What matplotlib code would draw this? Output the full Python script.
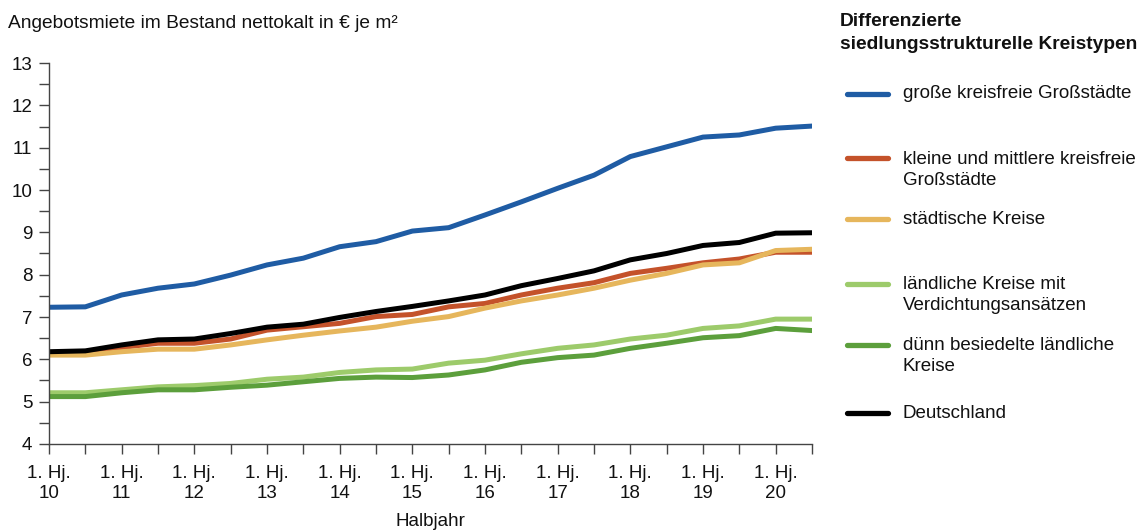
import matplotlib
matplotlib.use("Agg")
import matplotlib.pyplot as plt
from matplotlib.lines import Line2D

plt.rcParams['font.family'] = ['Liberation Sans', 'DejaVu Sans']

# Half-year periods 1. Hj. 2010 .. 2. Hj. 2020
periods = ["1. Hj. 10", "2. Hj. 10", "1. Hj. 11", "2. Hj. 11", "1. Hj. 12", "2. Hj. 12",
           "1. Hj. 13", "2. Hj. 13", "1. Hj. 14", "2. Hj. 14", "1. Hj. 15", "2. Hj. 15",
           "1. Hj. 16", "2. Hj. 16", "1. Hj. 17", "2. Hj. 17", "1. Hj. 18", "2. Hj. 18",
           "1. Hj. 19", "2. Hj. 19", "1. Hj. 20", "2. Hj. 20"]

grosse_grossstaedte = [7.23, 7.24, 7.52, 7.68, 7.78, 7.99, 8.23, 8.39, 8.66, 8.78, 9.03,
                       9.11, 9.41, 9.72, 10.04, 10.35, 10.79, 11.02, 11.25, 11.30, 11.46, 11.51]
kleine_grossstaedte = [6.15, 6.15, 6.28, 6.38, 6.38, 6.48, 6.69, 6.77, 6.85, 7.01, 7.06,
                       7.24, 7.32, 7.52, 7.68, 7.81, 8.03, 8.15, 8.28, 8.37, 8.53, 8.53]
staedtische_kreise = [6.10, 6.10, 6.18, 6.24, 6.24, 6.34, 6.46, 6.57, 6.67, 6.76, 6.90,
                      7.01, 7.21, 7.38, 7.52, 7.68, 7.87, 8.03, 8.23, 8.28, 8.57, 8.60]
laendlich_verdichtet = [5.21, 5.21, 5.28, 5.35, 5.38, 5.43, 5.53, 5.58, 5.69, 5.75, 5.77,
                        5.91, 5.98, 6.13, 6.26, 6.34, 6.48, 6.57, 6.73, 6.79, 6.95, 6.95]
duenn_besiedelt = [5.12, 5.12, 5.21, 5.28, 5.28, 5.34, 5.39, 5.47, 5.55, 5.58, 5.57,
                   5.63, 5.75, 5.93, 6.04, 6.10, 6.26, 6.38, 6.51, 6.56, 6.73, 6.68]
deutschland = [6.18, 6.20, 6.34, 6.46, 6.48, 6.61, 6.76, 6.83, 6.99, 7.13, 7.25,
               7.38, 7.52, 7.74, 7.91, 8.09, 8.35, 8.50, 8.69, 8.76, 8.98, 8.99]

series = [
    ("große kreisfreie Großstädte", grosse_grossstaedte, "#1f5ca4"),
    ("kleine und mittlere kreisfreie\nGroßstädte", kleine_grossstaedte, "#c4522a"),
    ("städtische Kreise", staedtische_kreise, "#e6b65c"),
    ("ländliche Kreise mit\nVerdichtungsansätzen", laendlich_verdichtet, "#9dcb6b"),
    ("dünn besiedelte ländliche\nKreise", duenn_besiedelt, "#5c9f3c"),
    ("Deutschland", deutschland, "#000000"),
]

W, H = 1143, 532
fig = plt.figure(figsize=(W / 100, H / 100), dpi=100)
ax = fig.add_axes([49 / W, 1 - 444 / H, (812 - 49) / W, (444 - 63) / H])

x = list(range(len(periods)))
for name, vals, col in series:
    ax.plot(x, vals, color=col, lw=3.6, solid_capstyle='round', solid_joinstyle='round')

ax.set_xlim(0, len(periods) - 1)
ax.set_ylim(4, 13)

# y ticks every 0.5, labels on whole numbers
yt = [4 + 0.5 * i for i in range(19)]
ax.set_yticks(yt)
ax.set_yticklabels([str(int(v)) if v == int(v) else "" for v in yt])
ax.set_xticks(x)
ax.set_xticklabels([p.replace(" Hj. ", " Hj.\n") if p.startswith("1.") else "" for p in periods])

for s in ["top", "right"]:
    ax.spines[s].set_visible(False)
for s in ["left", "bottom"]:
    ax.spines[s].set_color("#444444")
    ax.spines[s].set_linewidth(1.0)
ax.tick_params(axis='both', colors="#444444", length=7, width=1.0, labelsize=13.5,
               labelcolor="#111111")
ax.tick_params(axis='x', pad=8)
ax.tick_params(axis='y', pad=5)
for lab in ax.get_xticklabels():
    lab.set_linespacing(1.25)

ax.set_xlabel("Halbjahr", fontsize=13.5, color="#111111", labelpad=8)

fig.text(8 / W, 1 - 23 / H, "Angebotsmiete im Bestand nettokalt in € je m²",
         fontsize=13.8, color="#111111", va='center', ha='left')

# Legend block
fig.text(840 / W, 1 - 33 / H, "Differenzierte\nsiedlungsstrukturelle Kreistypen",
         fontsize=13.8, fontweight='bold', color="#111111", va='center', ha='left',
         linespacing=1.4)
legend_rows = [94, 170, 219, 295, 356, 413]
for (name, vals, col), yy in zip(series, legend_rows):
    yl = yy if "\n" not in name else yy - 11.5
    fig.add_artist(Line2D([847 / W, 888 / W], [1 - yl / H, 1 - yl / H], color=col,
                          lw=3.8, solid_capstyle='round', transform=fig.transFigure))
    fig.text(903 / W, 1 - yy / H, name, fontsize=13.5, color="#111111",
             va='center', ha='left', linespacing=1.3)

fig.savefig("out.png", dpi=100)
